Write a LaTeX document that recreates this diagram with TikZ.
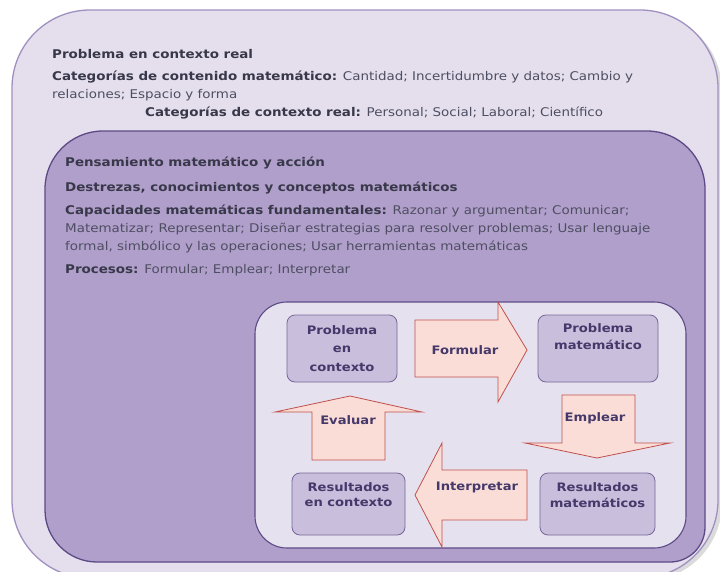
\documentclass[tikz,border=0pt]{standalone}
\usepackage{fontspec}
\setmainfont{DejaVu Sans}[FakeStretch=1.12]
\definecolor{outerfill}{HTML}{E5DFED}
\definecolor{outerline}{HTML}{A090C0}
\definecolor{midfill}{HTML}{B09FCA}
\definecolor{midline}{HTML}{5C4A86}
\definecolor{innerfill}{HTML}{E6E1EE}
\definecolor{boxfill}{HTML}{C9BFDC}
\definecolor{boxline}{HTML}{75679A}
\definecolor{arrfill}{HTML}{FADDD6}
\definecolor{arrline}{HTML}{C0504D}
\definecolor{boldtxt}{HTML}{38384A}
\definecolor{regtxt}{HTML}{4E4E62}
\definecolor{boxtxt}{HTML}{45386A}
\tikzset{
  txt/.style={anchor=base west, inner sep=0pt, font=\fontsize{12}{14}\selectfont, text=regtxt},
  stage/.style={draw=boxline, fill=boxfill, rounded corners=8pt, line width=0.8pt, inner sep=0pt},
  stagetxt/.style={font=\fontsize{11.7}{14}\selectfont\bfseries, text=boxtxt, align=center, inner sep=0pt},
  bigarrow/.style={draw=arrline, fill=arrfill, line width=0.8pt, line join=miter},
  arrtxt/.style={font=\fontsize{11.7}{14}\selectfont\bfseries, text=boxtxt, inner sep=0pt},
}
\newcommand{\bt}[1]{\textbf{\color{boldtxt}#1}}
\begin{document}
\begin{tikzpicture}[x=1pt,y=-1pt]
\useasboundingbox (0,0) rectangle (720,571);
\fill[white] (0,0) rectangle (720,571);
% outer box with light shadow
\fill[black!14, rounded corners=78pt] (17,13) rectangle (722,581);
\draw[draw=outerline, fill=outerfill, line width=1.3pt, rounded corners=78pt] (12,10) rectangle (718,578);
% top texts
\node[txt] (t1) at (52,58.5) {\bt{Problema en contexto real}};
\node[txt] (t2) at (52,80.5) {\bt{Categorías de contenido matemático:} Cantidad; Incertidumbre y datos; Cambio y};
\node[txt] (t3) at (52,98) {relaciones; Espacio y forma};
\node[txt] (t4) at (145,116) {\bt{Categorías de contexto real:} Personal; Social; Laboral; Científico};
% middle box
\draw[draw=midline, fill=midfill, line width=1.3pt]
  (45,189) .. controls (45,157) and (71,131) .. (103,131)
  -- (647,131) .. controls (679,131) and (705,157) .. (705,189)
  -- (705,527) .. controls (705,546.3) and (689.3,562) .. (670,562)
  -- (97,562) .. controls (68.3,562) and (45,538.7) .. (45,510) -- cycle;
\node[txt] (m1) at (65,166) {\bt{Pensamiento matemático y acción}};
\node[txt] (m2) at (65,191) {\bt{Destrezas, conocimientos y conceptos matemáticos}};
\node[txt] (m3) at (65,214) {\bt{Capacidades matemáticas fundamentales:} Razonar y argumentar; Comunicar;};
\node[txt] (m4) at (65,232) {Matematizar; Representar; Diseñar estrategias para resolver problemas; Usar lenguaje};
\node[txt] (m5) at (65,250) {formal, simbólico y las operaciones; Usar herramientas matemáticas};
\node[txt] (m6) at (65,273) {\bt{Procesos:} Formular; Emplear; Interpretar};
% inner light box
\draw[draw=midline, fill=innerfill, line width=1.1pt, rounded corners=32pt] (255,302) rectangle (686,548);
% stage boxes
\node[stage, minimum width=110pt, minimum height=67pt] (pc) at (342,348.5) {};
\node[stage, minimum width=120pt, minimum height=67pt] (pm) at (598,348.5) {};
\node[stage, minimum width=113pt, minimum height=62pt] (rc) at (348.5,504) {};
\node[stage, minimum width=115pt, minimum height=62pt] (rm) at (597.5,504) {};
\node[stagetxt] (pct) at (342,348.5) {Problema\\[4.5pt]en\\[4.5pt]contexto};
\node[stagetxt] (pmt) at (598,336.5) {Problema\\[3pt]matemático};
\node[stagetxt] (rct) at (348.5,494.5) {Resultados\\[1.5pt]en contexto};
\node[stagetxt] (rmt) at (597.5,495) {Resultados\\[2pt]matemáticos};
% block arrows
\draw[bigarrow] (415,320) -- (498,320) -- (498,302) -- (527,350) -- (498,402) -- (498,377) -- (415,377) -- cycle;
\draw[bigarrow] (562,395) -- (635,395) -- (635,443) -- (670,443) -- (597,458) -- (525,443) -- (562,443) -- cycle;
\draw[bigarrow] (527,470) -- (527,520) -- (442,520) -- (442,547) -- (415,495) -- (442,443) -- (442,470) -- cycle;
\draw[bigarrow] (312,460) -- (385,460) -- (385,412) -- (422,412) -- (350,396) -- (275,412) -- (312,412) -- cycle;
\node[arrtxt] (af) at (465,350) {Formular};
\node[arrtxt] (ae) at (595,418) {Emplear};
\node[arrtxt] (ai) at (477,487) {Interpretar};
\node[arrtxt] (av) at (348,420) {Evaluar};
\end{tikzpicture}
\end{document}
